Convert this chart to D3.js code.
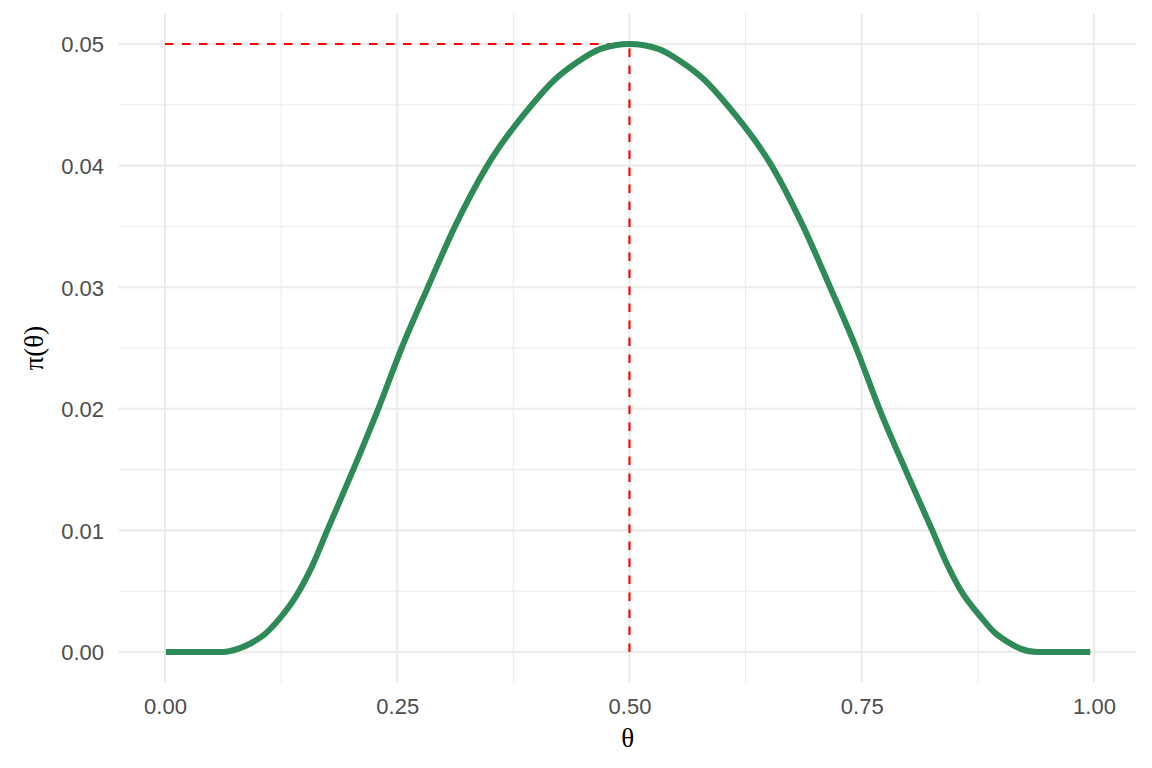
<!DOCTYPE html>
<html>
<head>
<meta charset="utf-8">
<script src="https://cdn.jsdelivr.net/npm/d3@7"></script>
<style>
  html, body { margin: 0; padding: 0; background: #ffffff; }
  svg { display: block; }
</style>
</head>
<body>
<svg id="chart" width="1152" height="768"></svg>
<script>
// ---- data ----
const theta = [0.001, 0.03, 0.0625, 0.08, 0.092, 0.108, 0.124, 0.142, 0.158, 0.1747, 0.2027, 0.2296, 0.2548,
  0.283, 0.3122, 0.347, 0.395, 0.420, 0.4436, 0.469, 0.500,
  0.531, 0.5564, 0.580, 0.605, 0.653, 0.687, 0.716, 0.744, 0.769, 0.797, 0.826,
  0.842, 0.858, 0.878, 0.893, 0.9066, 0.92, 0.939, 0.97, 0.996];
const prior = [0, 0, 0, 0.0003, 0.0007, 0.0015, 0.0028, 0.0047, 0.0070, 0.0100, 0.0150, 0.0200, 0.0250,
  0.0300, 0.0350, 0.0400, 0.0450, 0.0471, 0.0485, 0.0496, 0.0500,
  0.0496, 0.0485, 0.0471, 0.0450, 0.0400, 0.0350, 0.0300, 0.0250, 0.0200, 0.0150, 0.0100,
  0.0072, 0.0049, 0.0029, 0.0016, 0.00085, 0.0003, 0, 0, 0];
const modeTheta = [0.5];
const modeValue = [0.05];
const xBreaks = [0, 0.25, 0.5, 0.75, 1];
const xMinor = [0.125, 0.375, 0.625, 0.875];
const yBreaks = [0, 0.01, 0.02, 0.03, 0.04, 0.05];
const yMinor = [0.005, 0.015, 0.025, 0.035, 0.045];
const xLabels = ["0.00", "0.25", "0.50", "0.75", "1.00"];
const yLabels = ["0.00", "0.01", "0.02", "0.03", "0.04", "0.05"];

const svg = d3.select("#chart");

// ggplot-like limits with 5% expansion
const xLim = [0, 0.996], yLim = [0, 0.05];
const xe = (xLim[1] - xLim[0]) * 0.05, ye = (yLim[1] - yLim[0]) * 0.05;
const panel = { left: 118.7, right: 1136.5, top: 13.6, bottom: 682.4 };

const x = d3.scaleLinear().domain([xLim[0] - xe, xLim[1] + xe]).range([panel.left, panel.right]);
const y = d3.scaleLinear().domain([yLim[0] - ye, yLim[1] + ye]).range([panel.bottom, panel.top]);

const grid = svg.append("g");
// minor gridlines
grid.selectAll("line.xm").data(xMinor).join("line")
  .attr("x1", d => x(d)).attr("x2", d => x(d))
  .attr("y1", panel.top).attr("y2", panel.bottom)
  .attr("stroke", "#EBEBEB").attr("stroke-width", 1.05);
grid.selectAll("line.ym").data(yMinor).join("line")
  .attr("y1", d => y(d)).attr("y2", d => y(d))
  .attr("x1", panel.left).attr("x2", panel.right)
  .attr("stroke", "#EBEBEB").attr("stroke-width", 1.05);
// major gridlines
grid.selectAll("line.xM").data(xBreaks).join("line")
  .attr("x1", d => x(d)).attr("x2", d => x(d))
  .attr("y1", panel.top).attr("y2", panel.bottom)
  .attr("stroke", "#EBEBEB").attr("stroke-width", 2.1);
grid.selectAll("line.yM").data(yBreaks).join("line")
  .attr("y1", d => y(d)).attr("y2", d => y(d))
  .attr("x1", panel.left).attr("x2", panel.right)
  .attr("stroke", "#EBEBEB").attr("stroke-width", 2.1);

// axes (labels only, like theme_minimal)
const xAxis = d3.axisBottom(x).tickValues(xBreaks).tickFormat((d, i) => xLabels[i]).tickSize(0).tickPadding(0);
const yAxis = d3.axisLeft(y).tickValues(yBreaks).tickFormat((d, i) => yLabels[i]).tickSize(0).tickPadding(0);

const gx = svg.append("g").attr("transform", `translate(0,${panel.bottom})`).call(xAxis);
gx.select(".domain").remove();
gx.selectAll("text")
  .attr("y", 32).attr("dy", null)
  .attr("fill", "#4D4D4D")
  .style("font-family", "'Liberation Sans', Arial, sans-serif")
  .style("font-size", "22px");

const gy = svg.append("g").attr("transform", `translate(104,0)`).call(yAxis);
gy.select(".domain").remove();
gy.selectAll("text")
  .attr("x", 0).attr("dy", "0.36em")
  .attr("fill", "#4D4D4D")
  .attr("text-anchor", "end")
  .style("font-family", "'Liberation Sans', Arial, sans-serif")
  .style("font-size", "22px");

// red dashed guide segments
const guides = svg.append("g");
guides.append("line")
  .attr("x1", x(0)).attr("x2", x(modeTheta[0]))
  .attr("y1", y(modeValue[0])).attr("y2", y(modeValue[0]))
  .attr("stroke", "#FF0000").attr("stroke-width", 2.1).attr("stroke-dasharray", "8.5,8.5");
guides.append("line")
  .attr("x1", x(modeTheta[0])).attr("x2", x(modeTheta[0]))
  .attr("y1", y(0)).attr("y2", y(modeValue[0]))
  .attr("stroke", "#FF0000").attr("stroke-width", 2.1).attr("stroke-dasharray", "8.5,8.5");

// prior curve
const pts = theta.map((t, i) => [t, prior[i]]);
const line = d3.line().x(d => x(d[0])).y(d => y(d[1])).curve(d3.curveMonotoneX);
svg.append("path")
  .datum(pts)
  .attr("d", line)
  .attr("fill", "none")
  .attr("stroke", "#2E8B57")
  .attr("stroke-width", 6)
  .attr("stroke-linejoin", "round");

// axis titles
svg.append("text")
  .attr("x", (panel.left + panel.right) / 2).attr("y", 747)
  .attr("text-anchor", "middle")
  .attr("fill", "#000000")
  .style("font-family", "'Liberation Serif', 'Times New Roman', serif")
  .style("font-size", "27px")
  .text("θ");

svg.append("text")
  .attr("transform", `translate(43,${(panel.top + panel.bottom) / 2}) rotate(-90)`)
  .attr("text-anchor", "middle")
  .attr("fill", "#000000")
  .style("font-family", "'Liberation Serif', 'Times New Roman', serif")
  .style("font-size", "27px")
  .text("π(θ)");
</script>
</body>
</html>
